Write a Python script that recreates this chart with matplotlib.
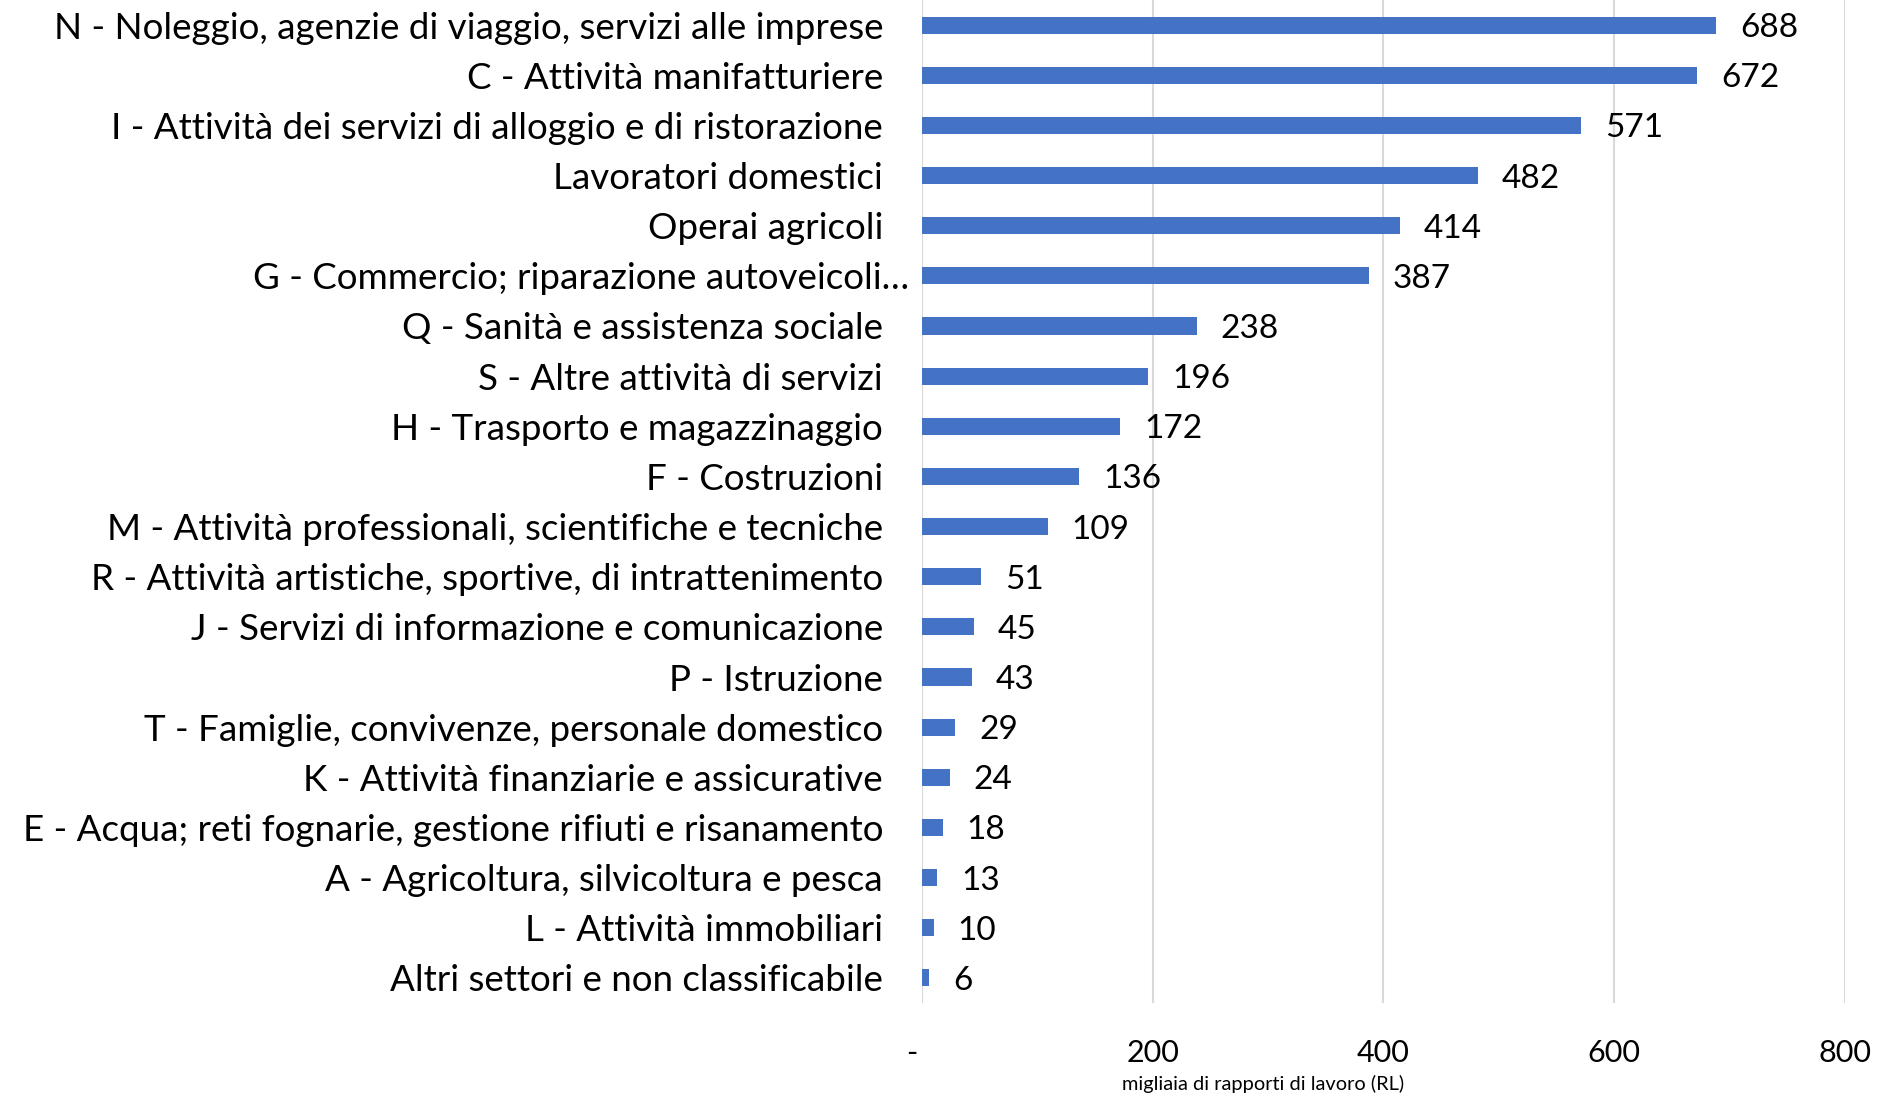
import matplotlib
matplotlib.use("Agg")
import matplotlib.pyplot as plt
from matplotlib.transforms import ScaledTranslation

plt.rcParams['font.family'] = ['Lato', 'DejaVu Sans']

categories = [
    "N - Noleggio, agenzie di viaggio, servizi alle imprese",
    "C - Attività manifatturiere",
    "I - Attività dei servizi di alloggio e di ristorazione",
    "Lavoratori domestici",
    "Operai agricoli",
    "G - Commercio; riparazione autoveicoli…",
    "Q - Sanità e assistenza sociale",
    "S - Altre attività di servizi",
    "H - Trasporto e magazzinaggio",
    "F - Costruzioni",
    "M - Attività professionali, scientifiche e tecniche",
    "R - Attività artistiche, sportive, di intrattenimento",
    "J - Servizi di informazione e comunicazione",
    "P - Istruzione",
    "T - Famiglie, convivenze, personale domestico",
    "K - Attività finanziarie e assicurative",
    "E - Acqua; reti fognarie, gestione rifiuti e risanamento",
    "A - Agricoltura, silvicoltura e pesca",
    "L - Attività immobiliari",
    "Altri settori e non classificabile",
]
values = [688, 672, 571, 482, 414, 387, 238, 196, 172, 136, 109, 51, 45, 43, 29, 24, 18, 13, 10, 6]
xticks = [0, 200, 400, 600, 800]
xticklabels = ["-", "200", "400", "600", "800"]
xlabel = "migliaia di rapporti di lavoro (RL)"

fig = plt.figure(figsize=(18.83, 10.96), dpi=100)
ax = fig.add_axes([922/1883, 1 - 1003/1096, (1845-922)/1883, 1003/1096])

n = len(categories)
ypos = list(range(n))
ax.barh(ypos, values, height=0.34, color="#4472C4", zorder=3)
ax.set_ylim(n - 0.5, -0.5)
ax.set_xlim(0, 800)
ax.set_yticks(ypos)
ax.set_yticklabels(categories, fontsize=26.5)
ax.tick_params(axis='y', length=0, pad=28)
ax.set_xticks(xticks)
ax.set_xticklabels(xticklabels, fontsize=22)
ax.tick_params(axis='x', length=0, pad=26)
ax.grid(axis='x', color="#D9D9D9", linewidth=1.5, zorder=0)
for s in ax.spines.values():
    s.set_visible(False)

# label for G extends a bit further right in the original
for lbl in ax.get_yticklabels():
    if lbl.get_text().endswith("…"):
        lbl.set_transform(lbl.get_transform() + ScaledTranslation(26/100, 0, fig.dpi_scale_trans))
# the "-" zero label sits slightly left of the axis origin
xl = ax.get_xticklabels()[0]
xl.set_transform(xl.get_transform() + ScaledTranslation(-10/100, 0, fig.dpi_scale_trans))

for y, v in zip(ypos, values):
    ax.annotate(str(v), (v, y), xytext=(24, -3), textcoords="offset pixels",
                ha="left", va="center", fontsize=24, color="black")

fig.text(1263/1883, 1 - 1084/1096, xlabel, ha="center", va="center", fontsize=14.4)

fig.savefig("out.png", dpi=100)
